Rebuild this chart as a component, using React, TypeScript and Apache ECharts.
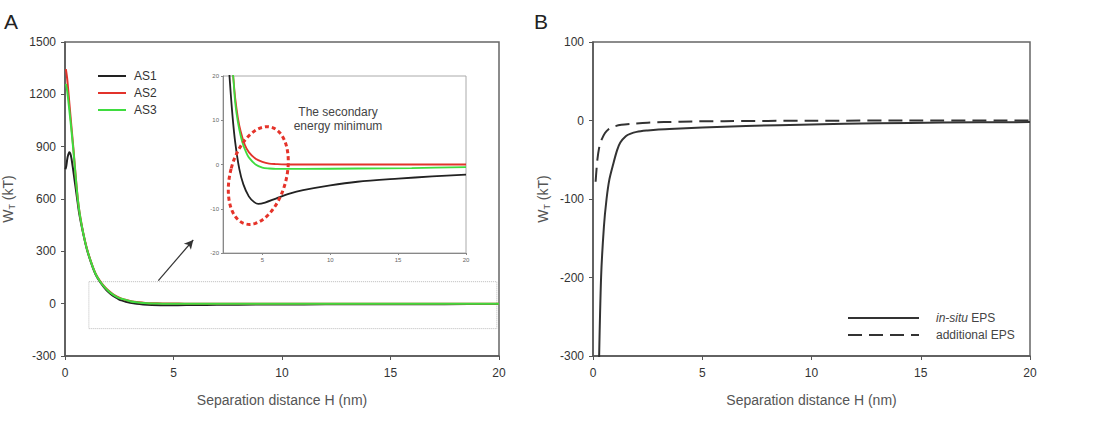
import React, { useEffect, useRef } from "react";
import * as echarts from "echarts";

// Total interaction energy W_T (kT) versus separation distance H (nm)
const AS1: number[][] = [
  [0.02, 770], [0.06, 790], [0.12, 840], [0.2, 868], [0.27, 850], [0.35, 790], [0.45, 700],
  [0.55, 610], [0.65, 520], [0.75, 455], [0.85, 395], [1, 315], [1.2, 235], [1.4, 170],
  [1.6, 127], [1.8, 94], [2, 66], [2.2, 46], [2.4, 31], [2.5, 24], [2.6, 19], [2.8, 11],
  [3, 5], [3.3, -1], [3.6, -4.5], [4, -7.2], [4.4, -8.5], [4.7, -8.9], [5.2, -8.6], [6, -7.7],
  [7, -6.6], [8, -5.8], [10, -4.7], [12, -3.9], [15, -3.2], [17.5, -2.7], [20, -2.3],
];
const AS2: number[][] = [
  [0.04, 1345], [0.1, 1290], [0.2, 1150], [0.3, 1010], [0.4, 870], [0.5, 720], [0.6, 590],
  [0.7, 500], [0.85, 400], [1, 320], [1.2, 240], [1.4, 175], [1.6, 132], [1.8, 100], [2, 75],
  [2.2, 55], [2.4, 40], [2.6, 29], [2.85, 20], [3, 15], [3.2, 10.5], [3.4, 7.5], [3.7, 4.5],
  [4, 2.8], [4.5, 1.3], [5, 0.6], [5.5, 0.2], [6, 0.1], [7, 0], [10, 0], [15, 0], [20, 0],
];
const AS3: number[][] = [
  [0.04, 1260], [0.1, 1220], [0.2, 1110], [0.3, 990], [0.4, 860], [0.5, 715], [0.6, 588],
  [0.7, 498], [0.85, 398], [1, 318], [1.2, 238], [1.4, 173], [1.6, 130], [1.8, 98], [2, 73],
  [2.2, 53], [2.4, 38], [2.6, 28], [2.85, 20], [3, 14], [3.2, 9.5], [3.4, 6.5], [3.6, 4.3],
  [3.8, 2.8], [4, 1.6], [4.5, 0], [5, -0.7], [5.5, -0.9], [6, -1], [8, -1], [12, -0.9],
  [16, -0.8], [20, -0.6],
];
const IN_SITU_EPS: number[][] = [
  [0.26, -330], [0.37, -200], [0.5, -135], [0.62, -100], [0.75, -75], [0.93, -55], [1.1, -38],
  [1.25, -28], [1.5, -20], [1.7, -17], [2, -14.5], [2.5, -12.7], [3, -11.5], [4, -10.2],
  [5, -9], [7, -7], [10, -5], [13, -3.5], [16, -2.7], [20, -2],
];
const ADDITIONAL_EPS: number[][] = [
  [0.12, -78], [0.2, -50], [0.3, -32], [0.4, -24], [0.55, -16], [0.7, -11.5], [0.93, -8],
  [1.3, -5.5], [1.7, -4.3], [2.5, -2.8], [4, -1.5], [6, -0.8], [10, -0.3], [15, 0], [20, 0],
];

const INSET_X_TICKS = [5, 10, 15, 20];
// Zoomed region of panel A and the arrow pointing to the inset
const ZOOM_BOX = [[1.1, 126], [19.9, -143]];
const ARROW = [[4.3, 132], [5.91, 365]];
const SECONDARY_MIN = [4.7, -2.5];

const FONT = "'Liberation Sans', Arial, sans-serif";
const C_BLACK = "#222222";
const C_RED = "#e2332b";
const C_GREEN = "#3fdc3f";
const C_AXIS = "#555555";

const plain = (v: number) => String(v);

const mainX = (gridIndex: number) => ({
  type: "value",
  gridIndex,
  min: 0,
  max: 20,
  interval: 5,
  name: "Separation distance H (nm)",
  nameLocation: "middle",
  nameGap: 37,
  nameTextStyle: { fontSize: 14, color: "#555" },
  axisLine: { show: true, onZero: false, lineStyle: { color: C_AXIS, width: 1.5 } },
  axisTick: { show: true, length: 4, lineStyle: { color: C_AXIS } },
  axisLabel: { fontSize: 12, color: "#333", margin: 11, formatter: plain },
  splitLine: { show: false },
});

const yName = {
  name: "W{s|T} (kT)",
  nameLocation: "middle",
  nameTextStyle: {
    fontSize: 14,
    color: "#555",
    rich: { s: { fontSize: 9, color: "#555", padding: [7, 0, 0, 0] } },
  },
};

const mainY = (gridIndex: number, min: number, max: number, interval: number, gap: number) => ({
  type: "value",
  gridIndex,
  min,
  max,
  interval,
  ...yName,
  nameGap: gap,
  axisLine: { show: true, onZero: false, lineStyle: { color: C_AXIS, width: 1.5 } },
  axisTick: { show: true, length: 4, lineStyle: { color: C_AXIS } },
  axisLabel: { fontSize: 12, color: "#333", margin: 9, formatter: plain },
  splitLine: { show: false },
});

const line = (name: string, data: number[][], color: string, axis: number, width = 2, extra: any = {}) => ({
  type: "line",
  name,
  data,
  xAxisIndex: axis,
  yAxisIndex: axis,
  symbol: "none",
  smooth: 0.3,
  clip: true,
  color,
  lineStyle: { color, width },
  ...extra,
});

export default function App() {
  const ref = useRef<HTMLDivElement>(null);

  useEffect(() => {
    const chart = echarts.init(ref.current!, null, { renderer: "svg" });
    const option: any = {
      animation: false,
      backgroundColor: "#fff",
      textStyle: { fontFamily: FONT },
      grid: [
        { left: 65, top: 42, width: 434, height: 314, show: true, borderColor: "#666", borderWidth: 1.5 },
        { left: 223, top: 76, width: 243, height: 177, show: true, borderColor: "#aaa", borderWidth: 1, backgroundColor: "#fff" },
        { left: 593, top: 42, width: 437, height: 314, show: true, borderColor: "#666", borderWidth: 1.5 },
      ],
      xAxis: [
        mainX(0),
        {
          type: "value",
          gridIndex: 1,
          min: 2.1,
          max: 20,
          axisLine: { show: true, onZero: false, lineStyle: { color: "#888", width: 1 } },
          axisTick: { show: true, length: 2, customValues: INSET_X_TICKS, lineStyle: { color: "#888" } },
          axisLabel: { fontSize: 6, color: "#666", margin: 4, customValues: INSET_X_TICKS },
          splitLine: { show: false },
        },
        mainX(2),
      ],
      yAxis: [
        mainY(0, -300, 1500, 300, 49),
        {
          type: "value",
          gridIndex: 1,
          min: -20,
          max: 20,
          interval: 10,
          axisLine: { show: true, onZero: false, lineStyle: { color: "#888", width: 1 } },
          axisTick: { show: true, length: 2, lineStyle: { color: "#888" } },
          axisLabel: { fontSize: 6, color: "#666", margin: 4 },
          splitLine: { show: false },
        },
        mainY(2, -300, 100, 100, 42),
      ],
      legend: [
        {
          data: ["AS1", "AS2", "AS3"],
          orient: "vertical",
          left: 92,
          top: 65,
          itemWidth: 28,
          itemHeight: 10,
          itemGap: 5,
          selectedMode: false,
          itemStyle: { opacity: 0 },
          textStyle: { fontSize: 12, color: "#333", padding: [0, 0, 0, 3] },
        },
        {
          data: ["in-situ EPS", "additional EPS"],
          orient: "vertical",
          left: 842,
          top: 307,
          itemWidth: 71,
          itemHeight: 10,
          itemGap: 5,
          selectedMode: false,
          itemStyle: { opacity: 0 },
          formatter: (n: string) => (n === "in-situ EPS" ? "{i|in-situ} EPS" : n),
          textStyle: {
            fontSize: 12,
            color: "#444",
            padding: [0, 0, 0, 12],
            rich: { i: { fontStyle: "italic", fontSize: 12, color: "#444" } },
          },
        },
      ],
      series: [
        line("AS1", AS1, C_BLACK, 0, 2, {
          markArea: {
            silent: true,
            itemStyle: { color: "rgba(0,0,0,0)", borderColor: "#bbb", borderWidth: 1, borderType: "dotted" },
            data: [[{ coord: ZOOM_BOX[0] }, { coord: ZOOM_BOX[1] }]],
          },
          markLine: {
            silent: true,
            symbol: ["none", "arrow"],
            symbolSize: [7, 9],
            label: { show: false },
            lineStyle: { color: "#333", width: 1.2, type: "solid" },
            data: [[{ coord: ARROW[0] }, { coord: ARROW[1] }]],
          },
        }),
        line("AS2", AS2, C_RED, 0),
        line("AS3", AS3, C_GREEN, 0),
        line("AS1", AS1, C_BLACK, 1, 1.8),
        line("AS2", AS2, C_RED, 1, 1.8),
        line("AS3", AS3, C_GREEN, 1, 1.8),
        line("in-situ EPS", IN_SITU_EPS, "#333", 2, 2),
        line("additional EPS", ADDITIONAL_EPS, "#333", 2, 2, {
          lineStyle: { color: "#333", width: 2, type: [14, 7] },
        }),
      ],
    };
    chart.setOption(option);

    const c = chart.convertToPixel({ gridIndex: 1 }, SECONDARY_MIN) as number[];
    chart.setOption({
      graphic: [
        { type: "text", left: 4, top: 11, style: { text: "A", fontSize: 21, fill: "#222", fontFamily: FONT } },
        { type: "text", left: 534, top: 11, style: { text: "B", fontSize: 21, fill: "#222", fontFamily: FONT } },
        {
          type: "text",
          x: 338,
          y: 105,
          z: 100,
          style: {
            text: "The secondary\nenergy minimum",
            fontSize: 12,
            lineHeight: 14,
            fill: "#444",
            align: "center",
            fontFamily: FONT,
          },
        },
        {
          type: "ellipse",
          x: c[0],
          y: c[1],
          rotation: (-15 * Math.PI) / 180,
          z: 100,
          shape: { cx: 0, cy: 0, rx: 28, ry: 50 },
          style: { fill: "none", stroke: "#e5332a", lineWidth: 3, lineDash: [4, 3] },
        },
      ],
    });

    return () => chart.dispose();
  }, []);

  return (
    <div
      ref={ref}
      style={{ position: "fixed", left: 0, top: 0, width: 1119, height: 423, background: "#fff" }}
    />
  );
}
